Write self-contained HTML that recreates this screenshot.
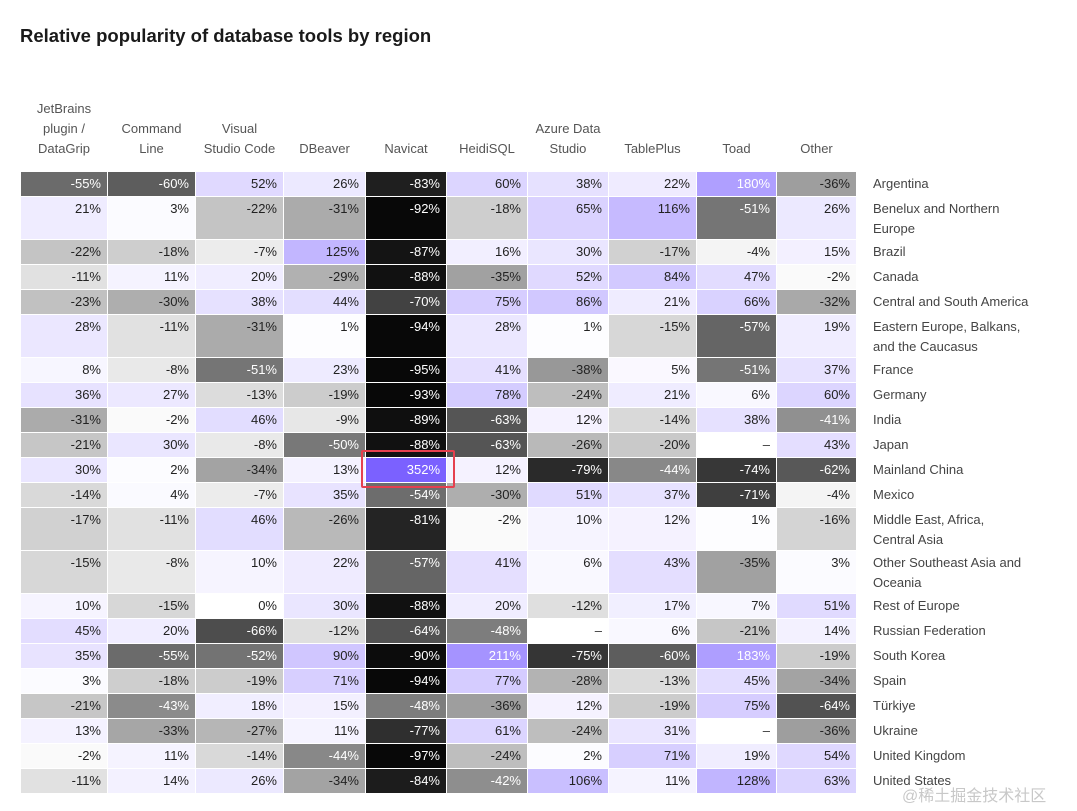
<!DOCTYPE html>
<html><head><meta charset="utf-8">
<style>
body{margin:0;width:1077px;height:811px;background:#fff;font-family:"Liberation Sans","Noto Sans CJK SC",sans-serif;position:relative;overflow:hidden;color:#333}
h1{position:absolute;left:20px;top:25px;margin:0;font-size:18.5px;font-weight:bold;color:#1a1a1a}
.hd{position:absolute;top:97px;height:62px;display:flex;align-items:flex-end;justify-content:center;text-align:center;font-size:13px;line-height:20px;color:#555}
.row{position:absolute;left:21px;display:grid;grid-template-columns:86px 87px 87px 81px 80px 80px 80px 87px 79px 79px;column-gap:1px}
.row div{font-size:13px;text-align:right;padding:4px 6px 0 0;box-sizing:border-box;line-height:16px}
.lab{position:absolute;left:873px;font-size:13px;line-height:20px;color:#444;width:170px;margin-top:1px}
</style></head><body>
<h1>Relative popularity of database tools by region</h1>
<div class="hd" style="left:21px;width:86px">JetBrains<br>plugin /<br>DataGrip</div>
<div class="hd" style="left:108px;width:87px">Command<br>Line</div>
<div class="hd" style="left:196px;width:87px">Visual<br>Studio Code</div>
<div class="hd" style="left:284px;width:81px">DBeaver</div>
<div class="hd" style="left:366px;width:80px">Navicat</div>
<div class="hd" style="left:447px;width:80px">HeidiSQL</div>
<div class="hd" style="left:528px;width:80px">Azure Data<br>Studio</div>
<div class="hd" style="left:609px;width:87px">TablePlus</div>
<div class="hd" style="left:697px;width:79px">Toad</div>
<div class="hd" style="left:777px;width:79px">Other</div>

<div class="row" style="top:172px;height:24px"><div>-55%</div><div>-60%</div><div>52%</div><div>26%</div><div>-83%</div><div>60%</div><div>38%</div><div>22%</div><div>180%</div><div>-36%</div></div>
<div class="lab" style="top:173px">Argentina</div>
<div class="row" style="top:197px;height:42px"><div>21%</div><div>3%</div><div>-22%</div><div>-31%</div><div>-92%</div><div>-18%</div><div>65%</div><div>116%</div><div>-51%</div><div>26%</div></div>
<div class="lab" style="top:198px">Benelux and Northern<br>Europe</div>
<div class="row" style="top:240px;height:24px"><div>-22%</div><div>-18%</div><div>-7%</div><div>125%</div><div>-87%</div><div>16%</div><div>30%</div><div>-17%</div><div>-4%</div><div>15%</div></div>
<div class="lab" style="top:241px">Brazil</div>
<div class="row" style="top:265px;height:24px"><div>-11%</div><div>11%</div><div>20%</div><div>-29%</div><div>-88%</div><div>-35%</div><div>52%</div><div>84%</div><div>47%</div><div>-2%</div></div>
<div class="lab" style="top:266px">Canada</div>
<div class="row" style="top:290px;height:24px"><div>-23%</div><div>-30%</div><div>38%</div><div>44%</div><div>-70%</div><div>75%</div><div>86%</div><div>21%</div><div>66%</div><div>-32%</div></div>
<div class="lab" style="top:291px">Central and South America</div>
<div class="row" style="top:315px;height:42px"><div>28%</div><div>-11%</div><div>-31%</div><div>1%</div><div>-94%</div><div>28%</div><div>1%</div><div>-15%</div><div>-57%</div><div>19%</div></div>
<div class="lab" style="top:316px">Eastern Europe, Balkans,<br>and the Caucasus</div>
<div class="row" style="top:358px;height:24px"><div>8%</div><div>-8%</div><div>-51%</div><div>23%</div><div>-95%</div><div>41%</div><div>-38%</div><div>5%</div><div>-51%</div><div>37%</div></div>
<div class="lab" style="top:359px">France</div>
<div class="row" style="top:383px;height:24px"><div>36%</div><div>27%</div><div>-13%</div><div>-19%</div><div>-93%</div><div>78%</div><div>-24%</div><div>21%</div><div>6%</div><div>60%</div></div>
<div class="lab" style="top:384px">Germany</div>
<div class="row" style="top:408px;height:24px"><div>-31%</div><div>-2%</div><div>46%</div><div>-9%</div><div>-89%</div><div>-63%</div><div>12%</div><div>-14%</div><div>38%</div><div>-41%</div></div>
<div class="lab" style="top:409px">India</div>
<div class="row" style="top:433px;height:24px"><div>-21%</div><div>30%</div><div>-8%</div><div>-50%</div><div>-88%</div><div>-63%</div><div>-26%</div><div>-20%</div><div>–</div><div>43%</div></div>
<div class="lab" style="top:434px">Japan</div>
<div class="row" style="top:458px;height:24px"><div>30%</div><div>2%</div><div>-34%</div><div>13%</div><div>352%</div><div>12%</div><div>-79%</div><div>-44%</div><div>-74%</div><div>-62%</div></div>
<div class="lab" style="top:459px">Mainland China</div>
<div class="row" style="top:483px;height:24px"><div>-14%</div><div>4%</div><div>-7%</div><div>35%</div><div>-54%</div><div>-30%</div><div>51%</div><div>37%</div><div>-71%</div><div>-4%</div></div>
<div class="lab" style="top:484px">Mexico</div>
<div class="row" style="top:508px;height:42px"><div>-17%</div><div>-11%</div><div>46%</div><div>-26%</div><div>-81%</div><div>-2%</div><div>10%</div><div>12%</div><div>1%</div><div>-16%</div></div>
<div class="lab" style="top:509px">Middle East, Africa,<br>Central Asia</div>
<div class="row" style="top:551px;height:42px"><div>-15%</div><div>-8%</div><div>10%</div><div>22%</div><div>-57%</div><div>41%</div><div>6%</div><div>43%</div><div>-35%</div><div>3%</div></div>
<div class="lab" style="top:552px">Other Southeast Asia and<br>Oceania</div>
<div class="row" style="top:594px;height:24px"><div>10%</div><div>-15%</div><div>0%</div><div>30%</div><div>-88%</div><div>20%</div><div>-12%</div><div>17%</div><div>7%</div><div>51%</div></div>
<div class="lab" style="top:595px">Rest of Europe</div>
<div class="row" style="top:619px;height:24px"><div>45%</div><div>20%</div><div>-66%</div><div>-12%</div><div>-64%</div><div>-48%</div><div>–</div><div>6%</div><div>-21%</div><div>14%</div></div>
<div class="lab" style="top:620px">Russian Federation</div>
<div class="row" style="top:644px;height:24px"><div>35%</div><div>-55%</div><div>-52%</div><div>90%</div><div>-90%</div><div>211%</div><div>-75%</div><div>-60%</div><div>183%</div><div>-19%</div></div>
<div class="lab" style="top:645px">South Korea</div>
<div class="row" style="top:669px;height:24px"><div>3%</div><div>-18%</div><div>-19%</div><div>71%</div><div>-94%</div><div>77%</div><div>-28%</div><div>-13%</div><div>45%</div><div>-34%</div></div>
<div class="lab" style="top:670px">Spain</div>
<div class="row" style="top:694px;height:24px"><div>-21%</div><div>-43%</div><div>18%</div><div>15%</div><div>-48%</div><div>-36%</div><div>12%</div><div>-19%</div><div>75%</div><div>-64%</div></div>
<div class="lab" style="top:695px">Türkiye</div>
<div class="row" style="top:719px;height:24px"><div>13%</div><div>-33%</div><div>-27%</div><div>11%</div><div>-77%</div><div>61%</div><div>-24%</div><div>31%</div><div>–</div><div>-36%</div></div>
<div class="lab" style="top:720px">Ukraine</div>
<div class="row" style="top:744px;height:24px"><div>-2%</div><div>11%</div><div>-14%</div><div>-44%</div><div>-97%</div><div>-24%</div><div>2%</div><div>71%</div><div>19%</div><div>54%</div></div>
<div class="lab" style="top:745px">United Kingdom</div>
<div class="row" style="top:769px;height:24px"><div>-11%</div><div>14%</div><div>26%</div><div>-34%</div><div>-84%</div><div>-42%</div><div>106%</div><div>11%</div><div>128%</div><div>63%</div></div>
<div class="lab" style="top:770px">United States</div>

<div style="position:absolute;left:361px;top:450px;width:90px;height:34px;border:2px solid #e5404f;border-radius:2px"></div>
<div style="position:absolute;left:902px;top:782px;font-size:16px;color:#c8c8c8;font-family:'Liberation Sans','Noto Sans CJK SC',sans-serif">@稀土掘金技术社区</div>
<script>
document.querySelectorAll('.row div').forEach(function(d){
  var t=d.textContent.trim(); var v=parseFloat(t);
  if(isNaN(v)){d.style.background='#fff';d.style.color='#333';return;}
  var bg,fg='#222';
  if(v<0){var L=Math.max(8,Math.round(255-2.7*(-v)));bg='rgb('+L+','+L+','+L+')';if(v<=-40)fg='#fff';}
  else{var f=Math.pow(Math.min(v/352,1),0.75);var r=Math.round(255-f*132),g=Math.round(255-f*158);bg='rgb('+r+','+g+',255)';if(v>=150)fg='#fff';}
  d.style.background=bg;d.style.color=fg;
});
</script>
</body></html>
